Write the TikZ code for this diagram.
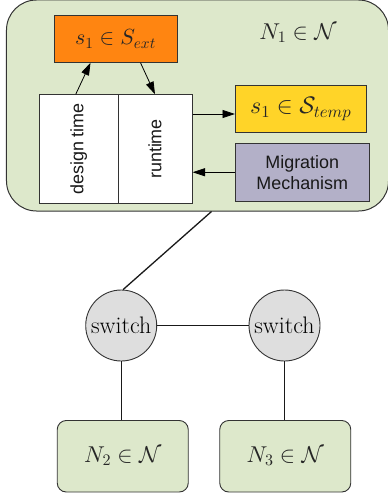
\documentclass[tikz,border=0pt]{standalone}
\usepackage{amsmath,amssymb,graphicx}
\usepackage{fontspec}
\newfontfamily\arialish{Liberation Sans}
\DeclareFontShape{OMS}{cmsy}{m}{n}{<->cmsy10}{}
\DeclareFontShape{OML}{cmm}{m}{it}{<->cmmi10}{}
\DeclareFontShape{OT1}{cmr}{m}{n}{<->cmr10}{}
\definecolor{nodegreen}{HTML}{DDE8CB}
\definecolor{orangebox}{HTML}{FF8511}
\definecolor{yellowbox}{HTML}{FFD428}
\definecolor{purplebox}{HTML}{B3B0C8}
\definecolor{switchgrey}{HTML}{DEDEDE}
\definecolor{edgegrey}{HTML}{333333}
\usetikzlibrary{arrows.meta}
\tikzset{
  x=1bp,y=-1bp,
  netnode/.style={draw=edgegrey,line width=0.9bp,fill=nodegreen,rounded corners=9bp,inner sep=0pt,minimum width=131bp,minimum height=71.5bp},
  bigbox/.style={draw=edgegrey,line width=1bp,fill=nodegreen,rounded corners=30bp,inner sep=0pt,minimum width=382bp,minimum height=211bp},
  flatbox/.style={draw=edgegrey,line width=1bp,inner sep=0pt},
  timebox/.style={flatbox,fill=white,minimum height=108.5bp},
  switchnode/.style={circle,draw=edgegrey,line width=0.9bp,fill=switchgrey,inner sep=0pt,minimum size=71bp,font=\fontsize{24}{26}\selectfont,text=black},
  link/.style={line width=1.3bp,draw=black!90},
  flow/.style={line width=0.8bp,draw=black,-{Triangle[length=12.5bp,width=8bp]}},
  mathlabel/.style={font=\fontsize{#1}{24}\selectfont,text=black!85},
  sanslabel/.style={font=\arialish\fontsize{18}{21}\selectfont,text=black!90},
}
\begin{document}
\begin{tikzpicture}
\useasboundingbox (0,0) rectangle (387,497);
\node[bigbox] (big) at (197.5,105.5) {};
\node[mathlabel=23] (n1) at (298,33) {$N_1 \in \mathcal{N}$};
\node[flatbox,fill=orangebox,minimum width=123bp,minimum height=46.5bp,mathlabel=22] (ext) at (115.5,39) {$s_1 \in S_{ext}$};
\node[timebox,minimum width=78.5bp,sanslabel] (dt) at (78.75,149) {\rotatebox{90}{design time}};
\node[timebox,minimum width=74bp,sanslabel] (rt) at (155,149) {\rotatebox{90}{runtime}};
\node[flatbox,fill=yellowbox,minimum width=130.5bp,minimum height=46.5bp,mathlabel=24] (temp) at (300.75,109.25) {$s_1 \in \mathcal{S}_{temp}$};
\node[flatbox,fill=purplebox,minimum width=133.5bp,minimum height=57.5bp,sanslabel,align=center] (mig) at (302.25,172.25) {Migration\\Mechanism};
\node[switchnode] (sw1) at (121.2,325.5) {switch};
\node[switchnode] (sw2) at (284.5,325.5) {switch};
\node[netnode,mathlabel=23] (n2) at (122.75,456.25) {$N_2 \in \mathcal{N}$};
\node[netnode,mathlabel=23] (n3) at (285.25,456.25) {$N_3 \in \mathcal{N}$};
\draw[flow] ([xshift=-3bp]dt.north) -- ([xshift=-25bp]ext.south);
\draw[flow] ([xshift=25bp]ext.south) -- (rt.north);
\draw[flow] ([yshift=35bp]rt.east) -- ([yshift=35bp]rt.east -| temp.west);
\draw[flow] (mig.west) -- (mig.west -| rt.east);
\draw[link] ([xshift=14bp]big.south) -- (sw1.87);
\draw[link] (sw1) -- (sw2);
\draw[link] (sw1.south) -- (sw1.south |- n2.north);
\draw[link] (sw2.south) -- (sw2.south |- n3.north);
\end{tikzpicture}
\end{document}
